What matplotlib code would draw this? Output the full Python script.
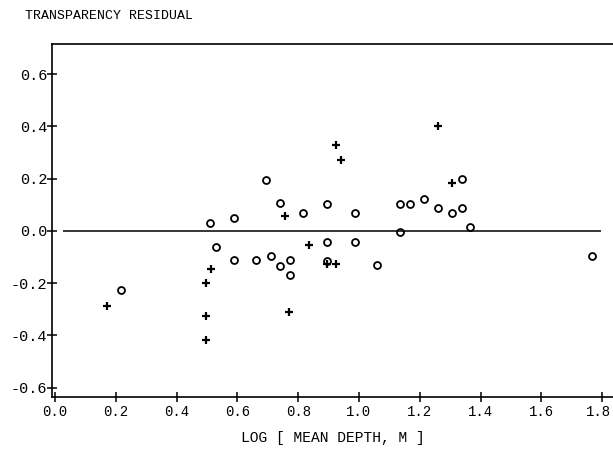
import matplotlib
matplotlib.use("Agg")
import matplotlib.pyplot as plt
import matplotlib.transforms as mtransforms

# residuals
circle_x = [0.217, 0.511, 0.528, 0.588, 0.590, 0.662, 0.694, 0.709, 0.740, 0.741,
            0.772, 0.773, 0.816, 0.894, 0.894, 0.894, 0.986, 0.986, 1.060, 1.135,
            1.135, 1.168, 1.214, 1.260, 1.306, 1.338, 1.338, 1.367, 1.766]
circle_y = [-0.226, 0.031, -0.060, 0.048, -0.113, -0.113, 0.195, -0.097, 0.106, -0.133,
            -0.167, -0.112, 0.068, 0.103, -0.042, -0.115, 0.068, -0.041, -0.131, 0.104,
            -0.005, 0.104, 0.124, 0.087, 0.068, 0.198, 0.088, 0.014, -0.094]

plus_x = [0.172, 0.497, 0.498, 0.498, 0.512, 0.755, 0.770, 0.836, 0.895, 0.923,
          0.924, 0.940, 1.260, 1.307]
plus_y = [-0.289, -0.200, -0.326, -0.418, -0.145, 0.057, -0.309, -0.054, -0.128, -0.126,
          0.328, 0.273, 0.402, 0.185]

xticks = [0.0, 0.2, 0.4, 0.6, 0.8, 1.0, 1.2, 1.4, 1.6, 1.8]
yticks = [-0.6, -0.4, -0.2, 0.0, 0.2, 0.4, 0.6]

font = "Liberation Mono"

fig = plt.figure(figsize=(6.13, 4.5), dpi=100)
ax = fig.add_axes([0.085, 0.118, 0.915, 0.784])

# zero reference line
ax.hlines(0.0, 0.026, 1.796, color="black", linewidth=1.1)

ax.plot(circle_x, circle_y, linestyle="none", marker="o", markersize=5,
        markerfacecolor="none", markeredgecolor="black", markeredgewidth=1.3)
ax.plot(plus_x, plus_y, linestyle="none", marker="+", markersize=6,
        color="black", markeredgewidth=1.6)

ax.set_xlim(-0.01, 1.836)
ax.set_ylim(-0.635, 0.715)
ax.set_xticks(xticks)
ax.set_yticks(yticks)
ax.set_xticklabels([f"{t:.1f}" for t in xticks], family=font, fontsize=10)
ax.set_yticklabels([f"{t:.1f}" for t in yticks], family=font, fontsize=11)
ax.tick_params(axis="both", direction="inout", length=7, width=1.1, color="black")
ax.tick_params(axis="x", pad=2)
ax.tick_params(axis="y", pad=0)

# nudge the last x label so it stays inside the figure
last = ax.get_xticklabels()[-1]
last.set_transform(last.get_transform() +
                   mtransforms.ScaledTranslation(-4 / 100, 0, fig.dpi_scale_trans))

ax.spines["right"].set_visible(False)
for side in ["left", "bottom", "top"]:
    ax.spines[side].set_linewidth(1.2)

ax.set_xlabel("LOG [ MEAN DEPTH, M ]", family=font, fontsize=10.5, labelpad=9)
fig.text(0.04, 0.965, "TRANSPARENCY RESIDUAL", family=font, fontsize=9.5,
         ha="left", va="center")

plt.savefig("out.png", dpi=100)
plt.close()
